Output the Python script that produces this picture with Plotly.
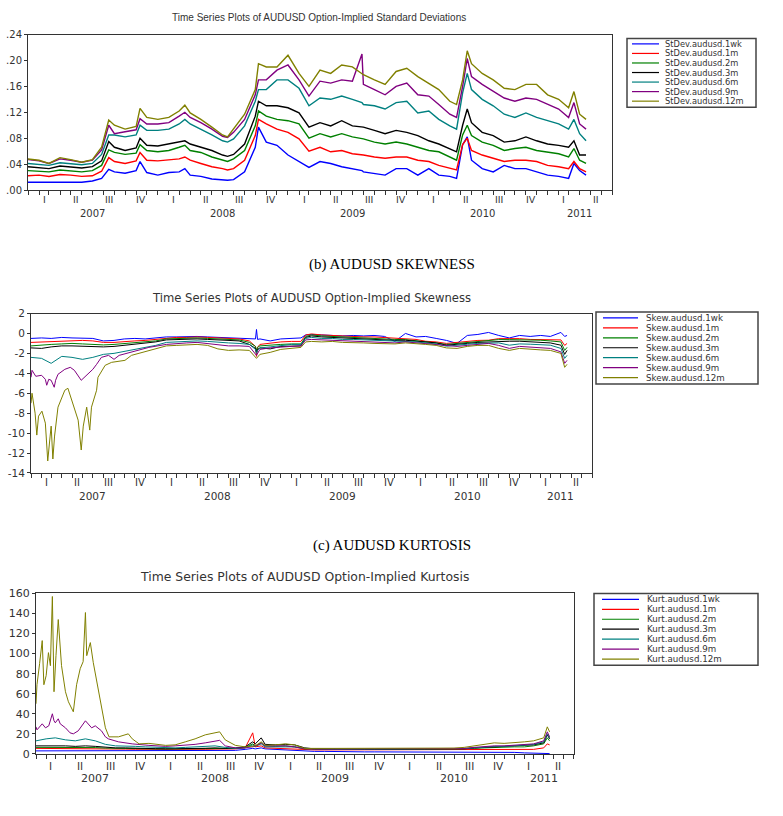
import plotly.graph_objects as go

W, H = 783, 816


def px(x):
    return x / W


def py(y):
    return 1 - y / H


COLORS = ["#0000FF", "#FF0000", "#008000", "#000000", "#008080", "#800080", "#808000"]
TENORS = ["1wk", "1m", "2m", "3m", "6m", "9m", "12m"]

# ---------------- Panel (a): standard deviations ----------------
DATES_A = ["2007-01-01", "2007-02-01", "2007-03-01", "2007-04-01", "2007-05-01", "2007-06-01", "2007-07-01",
           "2007-07-27", "2007-08-16", "2007-09-01", "2007-10-01", "2007-11-01", "2007-11-12", "2007-12-01",
           "2008-01-01", "2008-02-01", "2008-03-01", "2008-03-17", "2008-04-01", "2008-05-01", "2008-06-01",
           "2008-07-01", "2008-07-15", "2008-08-01", "2008-09-01", "2008-10-01", "2008-10-10", "2008-11-01",
           "2008-12-01", "2009-01-01", "2009-02-01", "2009-03-01", "2009-04-01", "2009-05-01", "2009-06-01",
           "2009-07-01", "2009-07-28", "2009-08-01", "2009-09-01", "2009-10-01", "2009-11-01", "2009-12-01",
           "2010-01-01", "2010-02-01", "2010-03-01", "2010-04-01", "2010-04-20", "2010-05-07", "2010-05-20",
           "2010-06-01", "2010-07-01", "2010-08-01", "2010-09-01", "2010-10-01", "2010-11-01", "2010-12-01",
           "2011-01-01", "2011-02-01", "2011-03-01", "2011-03-16", "2011-04-01", "2011-04-19"]
STD_1WK = [.012, .012, .012, .013, .013, .012, .014, .018, .032, .028, .026, .030, .044, .027, .023, .027, .028,
           .033, .023, .021, .017, .016, .015, .016, .028, .066, .097, .074, .069, .054, .044, .035, .044, .041,
           .036, .033, .030, .028, .026, .023, .033, .033, .023, .033, .023, .021, .018, .070, .082, .046, .033,
           .028, .038, .033, .033, .028, .023, .021, .018, .041, .030, .023]
STD_1M = [.022, .023, .021, .024, .023, .021, .022, .029, .050, .044, .041, .045, .058, .046, .045, .046, .048,
          .051, .046, .041, .036, .033, .031, .033, .046, .084, .109, .102, .094, .089, .079, .060, .066, .059,
          .061, .056, .055, .054, .051, .049, .051, .051, .046, .044, .038, .033, .031, .070, .080, .061, .054,
          .049, .044, .046, .046, .044, .038, .036, .033, .044, .033, .028]
STD_2M = [.030, .029, .028, .031, .030, .028, .030, .038, .062, .058, .055, .057, .070, .061, .059, .061, .066,
          .069, .061, .058, .051, .046, .044, .048, .061, .099, .122, .114, .109, .107, .102, .080, .087, .082,
          .087, .082, .080, .079, .074, .071, .074, .071, .066, .061, .059, .051, .046, .085, .100, .084, .074,
          .069, .061, .064, .066, .061, .059, .056, .051, .064, .046, .041]
STD_3M = [.036, .035, .033, .037, .036, .034, .036, .045, .075, .066, .061, .065, .080, .069, .068, .071, .074,
          .076, .071, .066, .061, .054, .052, .055, .071, .114, .137, .130, .130, .127, .119, .097, .104, .099,
          .107, .099, .098, .097, .092, .087, .092, .089, .084, .076, .071, .064, .059, .100, .125, .104, .089,
          .084, .074, .076, .082, .076, .071, .069, .066, .076, .054, .054]
STD_6M = [.041, .040, .038, .042, .041, .039, .041, .055, .085, .085, .082, .085, .100, .092, .092, .094, .102,
          .109, .102, .094, .085, .076, .074, .079, .099, .137, .155, .155, .170, .170, .157, .130, .142, .140,
          .145, .140, .135, .132, .130, .125, .135, .137, .119, .122, .109, .099, .094, .150, .180, .155, .140,
          .130, .117, .112, .119, .112, .107, .102, .094, .109, .087, .076]
STD_9M = [.047, .045, .041, .048, .046, .043, .046, .062, .100, .087, .090, .093, .110, .102, .102, .104, .114,
          .120, .112, .104, .094, .083, .081, .089, .109, .147, .170, .170, .185, .193, .170, .145, .168, .165,
          .170, .168, .210, .163, .155, .147, .160, .165, .147, .145, .132, .117, .112, .160, .203, .175, .163,
          .152, .142, .137, .142, .140, .132, .125, .112, .135, .102, .094]
STD_12M = [.048, .046, .041, .050, .047, .043, .047, .066, .108, .100, .094, .098, .126, .112, .109, .112, .122,
           .131, .119, .109, .097, .085, .082, .094, .117, .155, .195, .190, .190, .208, .180, .160, .185, .180,
           .193, .190, .180, .178, .170, .163, .183, .188, .175, .165, .155, .137, .132, .170, .215, .195, .180,
           .170, .157, .155, .163, .163, .147, .140, .127, .152, .117, .109]

# ---------------- Panel (b): skewness ----------------
DATES_B = ["2007-01-01", "2007-02-01", "2007-03-01", "2007-04-01", "2007-05-01", "2007-06-01", "2007-07-01",
           "2007-08-01", "2007-09-01", "2007-10-01", "2007-11-01", "2007-12-01", "2008-01-01", "2008-02-01",
           "2008-03-01", "2008-04-01", "2008-05-01", "2008-06-01", "2008-07-01", "2008-08-01", "2008-09-01",
           "2008-10-01", "2008-10-19", "2008-10-22", "2008-10-25", "2008-11-01", "2008-12-01", "2009-01-01",
           "2009-02-01", "2009-03-01",
           "2009-03-15", "2009-04-01", "2009-05-01", "2009-06-01", "2009-07-01", "2009-08-01", "2009-09-01",
           "2009-10-01", "2009-11-01", "2009-12-01", "2010-01-01", "2010-02-01", "2010-03-01", "2010-04-01",
           "2010-05-01", "2010-06-01", "2010-07-01", "2010-08-01", "2010-09-01", "2010-10-01", "2010-11-01",
           "2010-12-01", "2011-01-01", "2011-02-01", "2011-03-01", "2011-04-01", "2011-04-12", "2011-04-19"]
SKEW_1WK = [-0.50, -0.45, -0.50, -0.40, -0.45, -0.45, -0.50, -0.75, -0.70, -0.55, -0.50, -0.55,
            -0.45, -0.35, -0.35, -0.30, -0.30, -0.35, -0.40, -0.40, -0.45, -0.50, -0.55, 0.40, -0.60,
            -0.55, -0.75, -0.55, -0.50, -0.45, -0.15,
            -0.10, -0.15, -0.20, -0.25, -0.20, -0.25, -0.20, -0.30, -0.80,
            0.00, -0.35, -0.30, -0.50, -0.70, -1.00, -0.20, -0.10, 0.10, -0.20, -0.45, -0.20, -0.30, -0.20,
            -0.30, 0.10, -0.30, -0.20]
SKEW_1M = [-0.90, -0.85, -0.80, -0.75, -0.70, -0.70, -0.75, -0.90, -0.90, -0.80, -0.75, -0.70,
           -0.60, -0.45, -0.40, -0.40, -0.35, -0.40, -0.45, -0.50, -0.55, -0.75, -1.30, -2.30, -1.40,
           -1.10, -0.95, -0.85, -0.80, -0.80, -0.15,
           -0.05, -0.15, -0.20, -0.30, -0.30, -0.35, -0.35, -0.40, -0.45,
           -0.52, -0.60, -0.78, -0.85, -1.00, -0.90, -0.80, -0.70, -0.68, -0.52, -0.52, -0.52, -0.60, -0.62,
           -0.62, -0.65, -1.20, -1.00]
SKEW_2M = [-1.25, -1.15, -1.10, -1.05, -1.00, -1.05, -1.10, -1.15, -1.10, -1.00, -0.90, -0.85,
           -0.75, -0.55, -0.50, -0.45, -0.45, -0.50, -0.55, -0.60, -0.65, -0.90, -1.30, -1.70, -1.40,
           -1.25, -1.15, -1.10, -1.05, -1.05, -0.30,
           -0.15, -0.25, -0.30, -0.40, -0.40, -0.45, -0.50, -0.55, -0.60,
           -0.62, -0.72, -0.85, -0.95, -1.10, -1.00, -0.88, -0.80, -0.75, -0.62, -0.62, -0.62, -0.68, -0.68,
           -0.75, -0.85, -1.70, -1.40]
SKEW_3M = [-1.45, -1.50, -1.35, -1.25, -1.25, -1.30, -1.30, -1.35, -1.30, -1.20, -1.10, -1.00,
           -0.85, -0.65, -0.60, -0.55, -0.55, -0.60, -0.65, -0.70, -0.75, -1.10, -1.50, -1.90, -1.60,
           -1.45, -1.55, -1.30, -1.25, -1.25, -0.40,
           -0.25, -0.35, -0.40, -0.50, -0.50, -0.55, -0.60, -0.65, -0.70,
           -0.68, -0.78, -0.85, -0.95, -1.18, -1.05, -1.00, -0.90, -0.85, -0.80, -0.78, -0.78, -0.85, -0.90,
           -0.95, -1.18, -2.10, -1.70]
SKEW_6M = [-2.40, -2.50, -3.00, -2.30, -2.40, -2.60, -2.40, -2.10, -2.00, -1.80, -1.60, -1.40,
           -1.20, -0.90, -0.85, -0.80, -0.75, -0.80, -0.90, -0.95, -1.00, -1.10, -1.60, -2.00, -1.70,
           -1.45, -1.35, -1.20, -1.10, -1.10, -0.50,
           -0.40, -0.50, -0.50, -0.60, -0.60, -0.65, -0.70, -0.75, -0.80,
           -0.78, -0.85, -0.95, -1.05, -1.28, -1.15, -1.08, -1.00, -0.95, -0.95, -1.18, -1.05, -1.08, -1.15,
           -1.18, -1.50, -2.50, -2.20]
SKEW_9M_DATES = ["2007-01-01", "2007-01-04", "2007-01-15", "2007-02-01", "2007-02-12", "2007-02-16", "2007-02-22",
                 "2007-03-01", "2007-03-10", "2007-03-14", "2007-03-21", "2007-04-10", "2007-04-26", "2007-05-08",
                 "2007-05-28", "2007-06-06", "2007-06-19", "2007-07-01", "2007-07-12", "2007-07-26", "2007-08-16",
                 "2007-09-01", "2007-09-16", "2007-10-22", "2007-12-12",
                 "2008-02-01", "2008-03-01", "2008-04-01", "2008-05-01", "2008-06-01", "2008-07-01", "2008-08-01",
                 "2008-09-01", "2008-10-01", "2008-10-22", "2008-11-01", "2008-12-01",
                 "2009-01-01", "2009-02-01", "2009-03-01", "2009-03-15", "2009-04-01", "2009-05-01", "2009-06-01",
                 "2009-07-01", "2009-08-01", "2009-09-01", "2009-10-01", "2009-11-01", "2009-12-01",
                 "2010-01-01", "2010-02-01", "2010-03-01", "2010-04-01", "2010-05-01", "2010-06-01", "2010-07-01",
                 "2010-08-01", "2010-09-01", "2010-10-01", "2010-11-01", "2010-12-01",
                 "2011-01-01", "2011-02-01", "2011-03-01", "2011-04-01", "2011-04-12", "2011-04-19"]
SKEW_9M = [-4.4, -3.7, -4.3, -4.2, -4.6, -5.2, -4.6, -4.7, -5.4, -4.7, -4.1, -3.6, -3.4, -3.7, -4.7, -4.4, -3.9,
           -3.6, -3.1, -2.4, -2.2, -2.6, -2.2, -1.9, -1.4,
           -1.1, -1.0, -0.95, -0.9, -1.0, -1.15, -1.25, -1.25, -1.3, -2.2, -1.6, -1.45,
           -1.35, -1.3, -1.25, -0.65, -0.6, -0.65, -0.7, -0.75, -0.75, -0.8, -0.85, -0.9, -0.95,
           -0.85, -0.95, -1.0, -1.1, -1.2, -1.3, -1.2, -1.1, -1.0, -1.2, -1.5, -1.3,
           -1.35, -1.4, -1.5, -1.85, -3.0, -2.7]
SKEW_12M_DATES = ["2007-01-01", "2007-01-04", "2007-01-13", "2007-01-18", "2007-01-23", "2007-02-02", "2007-02-12",
                  "2007-02-19", "2007-02-26", "2007-03-01", "2007-03-06", "2007-03-11", "2007-03-21", "2007-04-10",
                  "2007-04-19", "2007-05-04", "2007-05-19", "2007-05-28", "2007-06-03", "2007-06-13", "2007-06-22",
                  "2007-06-27", "2007-07-12", "2007-07-16", "2007-08-06", "2007-08-25", "2007-10-03", "2007-10-22",
                  "2007-12-12",
                  "2008-02-01", "2008-03-01", "2008-04-01", "2008-05-01", "2008-06-01", "2008-07-01", "2008-08-01",
                  "2008-09-01", "2008-10-01", "2008-10-22", "2008-11-01", "2008-12-01",
                  "2009-01-01", "2009-02-01", "2009-03-01", "2009-03-15", "2009-04-01", "2009-05-01", "2009-06-01",
                  "2009-07-01", "2009-08-01", "2009-09-01", "2009-10-01", "2009-11-01", "2009-12-01",
                  "2010-01-01", "2010-02-01", "2010-03-01", "2010-04-01", "2010-05-01", "2010-06-01", "2010-07-01",
                  "2010-08-01", "2010-09-01", "2010-10-01", "2010-11-01", "2010-12-01",
                  "2011-01-01", "2011-02-01", "2011-03-01", "2011-04-01", "2011-04-12", "2011-04-19"]
SKEW_12M = [-7.0, -6.0, -8.0, -10.2, -8.3, -7.8, -9.0, -12.8, -10.3, -9.3, -12.6, -10.3, -7.4, -5.7, -5.5, -7.0,
            -8.7, -11.7, -9.3, -7.4, -9.7, -7.4, -5.7, -4.4, -3.2, -2.9, -2.7, -2.2, -1.7,
            -1.25, -1.2, -1.15, -1.1, -1.2, -1.55, -1.7, -1.65, -1.7, -2.5, -2.1, -1.9,
            -1.6, -1.5, -1.4, -0.85, -0.8, -0.85, -0.8, -0.9, -0.9, -0.95, -1.0, -1.0, -1.05,
            -0.95, -1.0, -1.1, -1.2, -1.45, -1.5, -1.3, -1.2, -1.2, -1.5, -1.7, -1.5,
            -1.6, -1.65, -1.7, -2.0, -3.4, -3.1]

# ---------------- Panel (c): kurtosis ----------------
DATES_C = ["2007-01-01", "2007-02-01", "2007-03-01", "2007-04-01", "2007-05-01", "2007-06-01", "2007-07-01",
           "2007-08-01", "2007-09-01", "2007-10-01", "2007-11-01", "2007-12-01", "2008-01-01", "2008-02-01",
           "2008-03-01", "2008-04-01", "2008-05-01", "2008-06-01", "2008-07-01", "2008-08-01", "2008-09-01",
           "2008-10-01", "2008-10-24", "2008-11-01", "2008-11-19", "2008-12-01",
           "2009-01-01", "2009-02-01", "2009-03-01", "2009-04-01", "2009-05-01", "2009-06-01", "2009-07-01",
           "2009-08-01", "2009-09-01", "2009-10-01", "2009-11-01", "2009-12-01", "2010-01-01", "2010-02-01",
           "2010-03-01", "2010-04-01", "2010-05-01", "2010-06-01", "2010-07-01", "2010-08-01", "2010-09-01",
           "2010-10-01", "2010-11-01", "2010-12-01", "2011-01-01", "2011-02-01", "2011-03-01", "2011-04-01",
           "2011-04-12", "2011-04-19"]
KURT_1WK = [3.0, 3.0, 3.2, 3.0, 3.0, 3.2, 3.0, 2.8, 3.0, 3.0, 2.8, 3.0,
            3.0, 2.8, 3.0, 3.2, 3.0, 3.0, 3.2, 3.0, 3.5, 4.5, 5.5, 5.0, 6.0,
            5.0, 4.5, 4.0, 3.5, 2.5, 2.5, 2.5, 2.2, 2.0, 2.2, 2.0, 2.0, 2.0,
            2.0, 2.0, 2.2, 2.0, 2.0, 2.0, 2.0, 2.0, 1.8, 1.8, 1.8, 1.5, 1.5, 1.0, 0.8, 0.5, 0.3, 0.3]
KURT_1M = [5.5, 5.5, 5.5, 5.3, 5.2, 5.3, 5.2, 5.0, 4.8, 4.8, 4.6, 4.5,
           4.5, 4.4, 4.4, 4.5, 4.5, 4.6, 4.8, 4.6, 5.0, 6.0, 21.0, 7.0, 8.0,
           6.0, 5.5, 5.5, 5.0, 4.2, 4.0, 4.0, 4.0, 4.0, 4.0, 4.0, 4.0, 4.0,
           4.0, 4.0, 4.0, 4.0, 4.0, 4.0, 4.0, 3.8, 3.8, 3.8, 3.8, 3.8, 4.0, 4.0, 4.5, 6.0, 10.0, 9.0]
KURT_2M = [6.5, 6.5, 6.8, 6.5, 6.3, 6.5, 6.3, 5.8, 5.5, 5.5, 5.3, 5.2,
           5.0, 5.0, 5.0, 5.2, 5.2, 5.4, 5.6, 5.2, 5.5, 6.5, 10.0, 8.0, 11.0,
           8.0, 7.5, 8.0, 7.0, 5.0, 4.8, 4.6, 4.6, 4.5, 4.5, 4.5, 4.5, 4.6,
           4.6, 4.6, 4.6, 4.6, 4.6, 4.6, 4.6, 4.8, 5.5, 6.0, 6.5, 6.5, 7.0, 7.0, 8.0, 10.0, 16.0, 13.0]
KURT_3M = [8.0, 8.0, 8.5, 8.0, 7.5, 8.0, 7.5, 6.5, 6.0, 6.0, 5.5, 5.5,
           5.2, 5.0, 5.0, 5.2, 5.4, 5.6, 6.0, 5.5, 5.8, 7.0, 12.0, 10.0, 16.0,
           9.5, 9.0, 9.5, 9.0, 6.0, 5.0, 4.8, 4.8, 4.6, 4.6, 4.6, 4.6, 4.8,
           4.8, 4.8, 4.8, 4.8, 4.8, 4.8, 4.8, 5.0, 6.0, 6.5, 7.0, 7.0, 7.5, 8.0, 9.0, 11.0, 19.0, 15.0]
KURT_6M = [13.0, 15.0, 16.0, 14.0, 13.0, 15.0, 13.0, 9.5, 8.0, 8.0, 7.5, 7.0,
           6.5, 6.0, 6.0, 6.5, 7.0, 7.5, 8.0, 6.5, 5.5, 6.0, 9.0, 7.5, 10.0,
           7.0, 7.0, 7.5, 7.0, 5.5, 5.0, 5.0, 4.8, 4.8, 4.8, 4.8, 4.8, 5.0,
           5.0, 5.0, 5.0, 5.0, 5.0, 5.0, 5.0, 5.2, 6.0, 7.0, 7.5, 7.5, 8.0, 8.5, 9.5, 12.0, 20.0, 16.0]
KURT_9M_DATES = ["2007-01-01", "2007-01-04", "2007-01-20", "2007-01-30", "2007-02-09", "2007-02-20", "2007-02-25",
                 "2007-03-01", "2007-03-10", "2007-03-16", "2007-04-01", "2007-04-15", "2007-04-25", "2007-05-10",
                 "2007-06-01", "2007-06-10", "2007-06-20", "2007-07-01", "2007-07-20", "2007-08-01", "2007-08-10",
                 "2007-09-10", "2007-10-22", "2007-12-12",
                 "2008-02-01", "2008-03-01", "2008-04-01", "2008-05-01", "2008-06-01", "2008-07-01", "2008-07-15",
                 "2008-08-01", "2008-09-01", "2008-10-01", "2008-11-01", "2008-11-19", "2008-12-01",
                 "2009-01-01", "2009-02-01", "2009-03-01", "2009-04-01", "2009-06-01", "2009-09-01", "2009-12-01",
                 "2010-03-01", "2010-06-01", "2010-08-01", "2010-09-01", "2010-10-01", "2010-11-01", "2010-12-01",
                 "2011-01-01", "2011-02-01", "2011-03-01", "2011-04-01", "2011-04-12", "2011-04-19"]
KURT_9M = [27, 24, 30, 26, 28, 40, 33, 31, 35, 30, 26, 21, 20, 23, 33, 30, 26, 28, 23, 17, 15, 12, 10, 8.5,
           7.5, 8, 8.5, 9.5, 11, 13, 13.5, 8, 6, 6, 7.5, 11, 8,
           8, 8, 7, 5, 4.8, 4.8, 5,
           5, 5, 5.5, 6.5, 7.5, 8, 8,
           8.5, 9, 10, 13, 22, 17]
KURT_12M_DATES = ["2007-01-01", "2007-01-04", "2007-01-12", "2007-01-20", "2007-01-25", "2007-02-01", "2007-02-08",
                  "2007-02-14", "2007-02-20", "2007-02-25", "2007-03-03", "2007-03-10", "2007-03-20", "2007-04-01",
                  "2007-04-10", "2007-04-25", "2007-05-05", "2007-05-16", "2007-05-25", "2007-06-01", "2007-06-05",
                  "2007-06-16", "2007-06-25", "2007-07-10", "2007-07-22", "2007-08-01", "2007-08-12", "2007-09-10",
                  "2007-10-10", "2007-10-22", "2007-11-12", "2007-12-12",
                  "2008-02-01", "2008-03-01", "2008-04-01", "2008-05-01", "2008-06-01", "2008-07-01", "2008-07-15",
                  "2008-08-01", "2008-09-01", "2008-10-01", "2008-11-01", "2008-11-19", "2008-12-01",
                  "2009-01-01", "2009-02-01", "2009-03-01", "2009-04-01", "2009-07-01", "2009-10-01",
                  "2010-01-01", "2010-04-01", "2010-07-01", "2010-08-01", "2010-09-01", "2010-10-01", "2010-11-01",
                  "2010-12-01", "2011-01-01", "2011-02-01", "2011-03-01", "2011-04-01", "2011-04-12", "2011-04-19"]
KURT_12M = [50, 69, 90, 113, 69, 78, 101, 88, 157, 62, 98, 134, 88, 62, 52, 42, 69, 85, 92, 141, 98, 111, 91, 65,
            42, 26, 17, 17, 20, 15, 10, 10.5,
            8.5, 9, 12, 15, 19, 21, 22, 14, 8.5, 7, 8, 12, 8.5,
            9, 10, 9, 5.5, 5.5, 5.5,
            5.5, 5.5, 5.8, 6.5, 8, 10, 11, 10.5, 11, 12, 13, 16, 27, 22]

for d, v in [(DATES_A, STD_1WK), (DATES_A, STD_1M), (DATES_A, STD_2M), (DATES_A, STD_3M), (DATES_A, STD_6M),
             (DATES_A, STD_9M), (DATES_A, STD_12M), (DATES_B, SKEW_1WK), (DATES_B, SKEW_1M), (DATES_B, SKEW_2M),
             (DATES_B, SKEW_3M), (DATES_B, SKEW_6M), (SKEW_9M_DATES, SKEW_9M), (SKEW_12M_DATES, SKEW_12M),
             (DATES_C, KURT_1WK), (DATES_C, KURT_1M), (DATES_C, KURT_2M), (DATES_C, KURT_3M), (DATES_C, KURT_6M),
             (KURT_9M_DATES, KURT_9M), (KURT_12M_DATES, KURT_12M)]:
    assert len(d) == len(v), (len(d), len(v))

PANEL_A = [(DATES_A, STD_1WK), (DATES_A, STD_1M), (DATES_A, STD_2M), (DATES_A, STD_3M), (DATES_A, STD_6M),
           (DATES_A, STD_9M), (DATES_A, STD_12M)]
PANEL_B = [(DATES_B, SKEW_1WK), (DATES_B, SKEW_1M), (DATES_B, SKEW_2M), (DATES_B, SKEW_3M), (DATES_B, SKEW_6M),
           (SKEW_9M_DATES, SKEW_9M), (SKEW_12M_DATES, SKEW_12M)]
PANEL_C = [(DATES_C, KURT_1WK), (DATES_C, KURT_1M), (DATES_C, KURT_2M), (DATES_C, KURT_3M), (DATES_C, KURT_6M),
           (KURT_9M_DATES, KURT_9M), (KURT_12M_DATES, KURT_12M)]

YTICKS_A = [0, 0.04, 0.08, 0.12, 0.16, 0.20, 0.24]
YTICKTEXT_A = [".00", ".04", ".08", ".12", ".16", ".20", ".24"]
YTICKS_B = [2, 0, -2, -4, -6, -8, -10, -12, -14]
YTICKS_C = [0, 20, 40, 60, 80, 100, 120, 140, 160]

QUARTER_LABELS = ["I", "II", "III", "IV"]
QUARTER_MID = ["02-15", "05-16", "08-16", "11-15"]
YEARS = ["2007", "2008", "2009", "2010", "2011"]
YEAR_POS = ["2007-07-01", "2008-07-01", "2009-07-01", "2010-07-01", "2011-04-01"]

TITLES = ["Time Series Plots of AUDUSD Option-Implied Standard Deviations",
          "Time Series Plots of AUDUSD Option-Implied Skewness",
          "Time Series Plots of AUDUSD Option-Implied Kurtosis"]
LEGEND_PREFIX = ["StDev.audusd.", "Skew.audusd.", "Kurt.audusd."]

TXT = "#333333"
LINE = "#333333"
X_RANGE = ["2007-01-01", "2011-07-01"]

fig = go.Figure()

panels = [
    dict(data=PANEL_A, xa="x", ya="y", width=1.4),
    dict(data=PANEL_B, xa="x2", ya="y2", width=1.0),
    dict(data=PANEL_C, xa="x3", ya="y3", width=1.0),
]
for p in panels:
    for i, (d, v) in enumerate(p["data"]):
        fig.add_trace(go.Scatter(x=d, y=v, mode="lines", xaxis=p["xa"], yaxis=p["ya"],
                                 line=dict(color=COLORS[i], width=p["width"]),
                                 showlegend=False, hoverinfo="skip"))

# geometry (pixels) of the three plot areas
GEOM = [
    dict(x0=28, x1=612, y0=29, y1=187, font="DejaVu Sans", tfs=10, qy=197, yy=211, qfs=9.5,
         title=(319, 12, "Liberation Sans", 10),
         leg=dict(x0=627, x1=756, y0=33, y1=103, lx0=632, lx1=659, tx=663, ry0=38.5, dy=9.7,
                  font="DejaVu Sans", fs=8.3)),
    dict(x0=31, x1=592, y0=312.5, y1=474.5, font="DejaVu Sans", tfs=10.5, qy=484, yy=498, qfs=10,
         title=(311, 297, "DejaVu Sans", 11.6),
         leg=dict(x0=596, x1=758, y0=311, y1=384, lx0=603, lx1=638, tx=644, ry0=317, dy=10.1,
                  font="DejaVu Sans", fs=8.7)),
    dict(x0=36, x1=573.5, y0=597, y1=760, font="DejaVu Sans", tfs=11, qy=772, yy=785, qfs=10.5,
         title=(304, 580, "DejaVu Sans", 12.4),
         leg=dict(x0=594, x1=758, y0=597, y1=670, lx0=602, lx1=639, tx=645, ry0=603, dy=10.1,
                  font="DejaVu Sans", fs=8.7)),
]

yranges = [[0, 0.24], [-14, 2], [0, 160]]
ytickvals = [YTICKS_A, YTICKS_B, YTICKS_C]
ytexts = [YTICKTEXT_A, [str(v) for v in YTICKS_B], [str(v) for v in YTICKS_C]]

layout = dict(width=W, height=H, margin=dict(l=0, r=0, t=0, b=0), paper_bgcolor="white",
              plot_bgcolor="white", showlegend=False)
annotations = []
shapes = []
for k, g in enumerate(GEOM):
    sfx = "" if k == 0 else str(k + 1)
    xname, yname = "x" + sfx, "y" + sfx
    layout["xaxis" + sfx] = dict(domain=[px(g["x0"]), px(g["x1"])], anchor=yname, type="date", range=X_RANGE,
                                 showgrid=False, zeroline=False, showline=True, linecolor=LINE, linewidth=1,
                                 mirror=True, ticks="outside", ticklen=4, tickwidth=1, tickcolor=LINE,
                                 tick0="2007-01-01", dtick="M1", showticklabels=False)
    layout["yaxis" + sfx] = dict(domain=[py(g["y1"]), py(g["y0"])], anchor=xname, range=yranges[k],
                                 showgrid=False, zeroline=False, showline=True, linecolor=LINE, linewidth=1,
                                 mirror=True, ticks="outside", ticklen=3, tickwidth=1, tickcolor=LINE,
                                 tickvals=ytickvals[k], ticktext=ytexts[k],
                                 tickfont=dict(family=g["font"], size=g["tfs"], color=TXT))
    # quarter and year labels
    for yr in range(2007, 2012):
        for q in range(4):
            if yr == 2011 and q > 1:
                continue
            annotations.append(dict(x=f"{yr}-{QUARTER_MID[q]}", y=py(g["qy"]), xref=xname, yref="paper",
                                    text=QUARTER_LABELS[q], showarrow=False, xanchor="center", yanchor="middle",
                                    font=dict(family=g["font"], size=g["qfs"], color=TXT)))
    for lab, pos in zip(YEARS, YEAR_POS):
        annotations.append(dict(x=pos, y=py(g["yy"]), xref=xname, yref="paper", text=lab, showarrow=False,
                                xanchor="center", yanchor="middle",
                                font=dict(family=g["font"], size=g["qfs"] + 0.5, color=TXT)))
    # title
    tx, ty, tf, tfs = g["title"]
    annotations.append(dict(x=px(tx), y=py(ty), xref="paper", yref="paper", text=TITLES[k], showarrow=False,
                            xanchor="center", yanchor="middle", font=dict(family=tf, size=tfs, color=TXT)))
    # legend box drawn as shapes + text
    L = g["leg"]
    shapes.append(dict(type="rect", xref="paper", yref="paper", x0=px(L["x0"]), x1=px(L["x1"]),
                       y0=py(L["y1"]), y1=py(L["y0"]), line=dict(color="#444444", width=1.5),
                       fillcolor="white"))
    for i, ten in enumerate(TENORS):
        yy = L["ry0"] + i * L["dy"]
        shapes.append(dict(type="line", xref="paper", yref="paper", x0=px(L["lx0"]), x1=px(L["lx1"]),
                           y0=py(yy), y1=py(yy), line=dict(color=COLORS[i], width=1.2)))
        annotations.append(dict(x=px(L["tx"]), y=py(yy), xref="paper", yref="paper",
                                text=LEGEND_PREFIX[k] + ten, showarrow=False, xanchor="left", yanchor="middle",
                                font=dict(family=L["font"], size=L["fs"], color=TXT)))

# captions between panels
for txt, (cx, cy) in [("(b) AUDUSD SKEWNESS", (392, 263)), ("(c) AUDUSD KURTOSIS", (392, 548))]:
    annotations.append(dict(x=px(cx), y=py(cy), xref="paper", yref="paper", text=txt, showarrow=False,
                            xanchor="center", yanchor="middle",
                            font=dict(family="Liberation Serif", size=15, color="#000000")))

layout["annotations"] = annotations
layout["shapes"] = shapes
fig.update_layout(**layout)
fig.write_html("out.html")
